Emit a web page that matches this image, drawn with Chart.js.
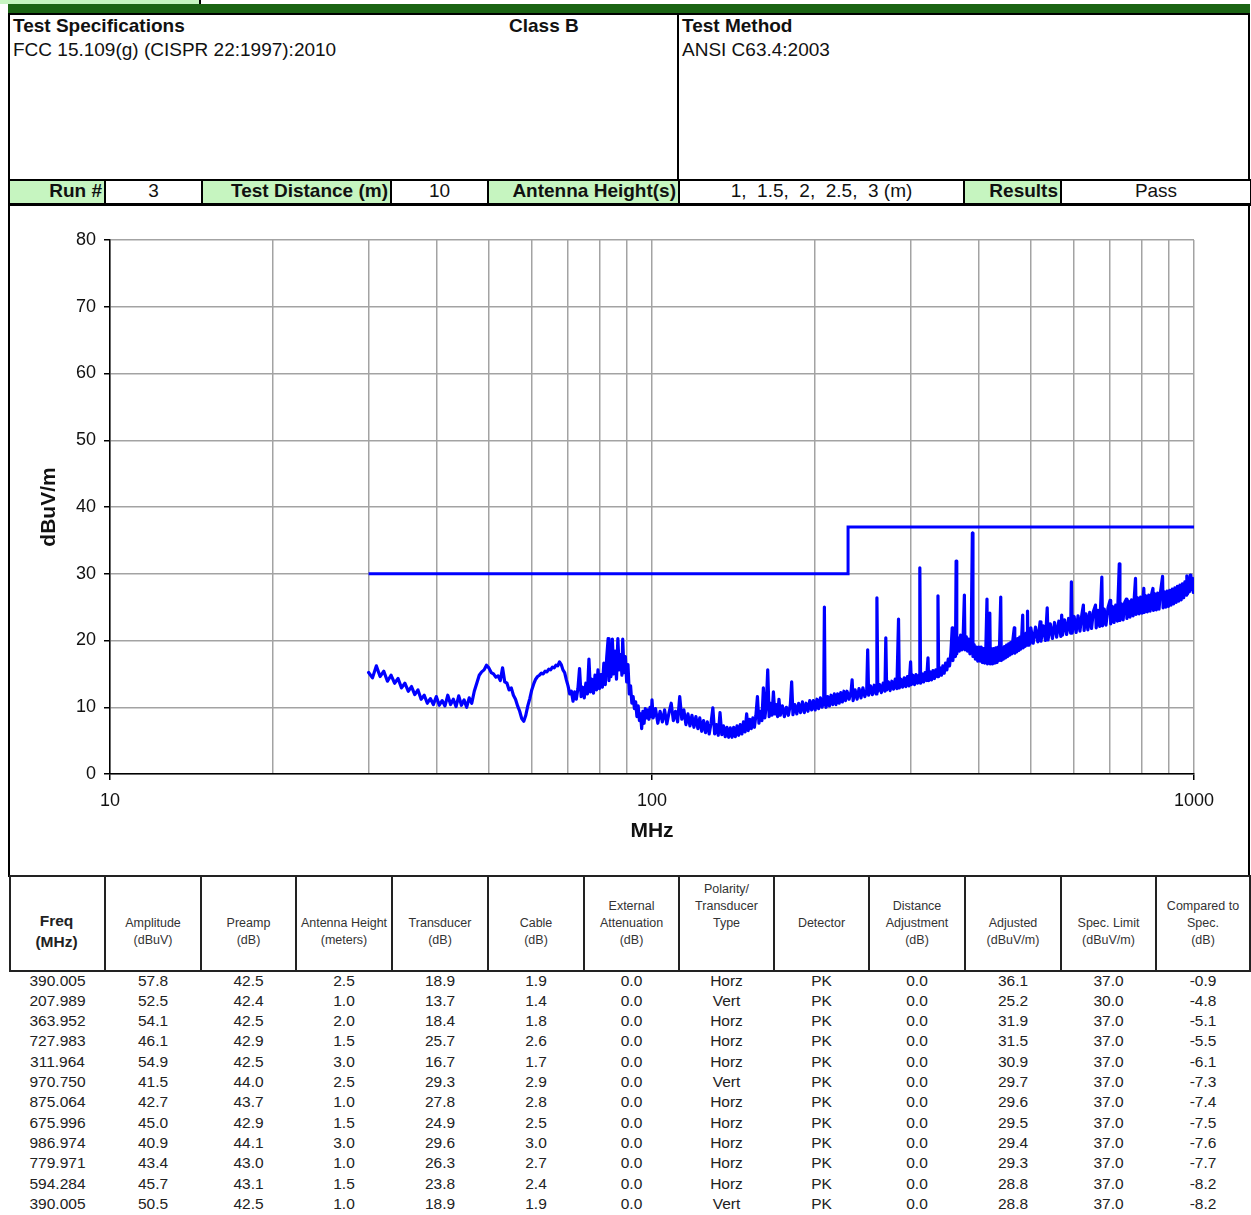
<!DOCTYPE html>
<html><head><meta charset="utf-8">
<script src="https://cdn.jsdelivr.net/npm/chart.js@4"></script>
<style>
body{margin:0;background:#fff;font-family:"Liberation Sans",Arial,sans-serif;}
#page{position:relative;width:1251px;height:1215px;overflow:hidden;background:#fff;}
.a{position:absolute;box-sizing:border-box;}
.t{position:absolute;white-space:pre;color:#111;}
</style></head><body><div id="page"></div>
<script>
// ---------- data ----------
const xTickValues = [10,20,30,40,50,60,70,80,90,100,200,300,400,500,600,700,800,900,1000];
const xLabelValues = [10,100,1000];
const limitFreq = [30,230,230,1000];
const limitLevel = [30,30,37,37];

const traceA = [[30,15.2],[30.5,14.4],[31,16.2],[31.5,14.6],[32,15.4],[32.5,13.9],[33,14.8],[33.5,13.6],[34,14.3],[34.5,12.9],[35,13.6],[35.5,12.4],[36,13.1],[36.5,11.9],[37,12.6],[37.5,11.2],[38,11.8],[38.5,10.6],[39,11.3],[39.5,10.4],[40,11.6],[40.5,10.3],[41,11.0],[41.5,10.2],[42,11.8],[42.5,10.4],[43,11.2],[43.5,10.1],[44,11.7],[44.5,10.3],[45,11.1],[45.5,10.0],[46,11.4],[46.5,10.6],[47,12.4],[47.5,13.6],[48,14.8],[48.5,15.3],[49,15.6],[49.5,16.3],[50,15.9],[50.5,15.2],[51,15.0],[51.5,14.5],[52,14.7],[52.5,14.0],[53,15.9],[53.5,13.8],[54,13.6],[54.5,12.6],[55,12.9],[55.5,11.8],[56,11.2],[56.5,10.2],[57,9.4],[57.5,8.3],[58,7.9],[58.5,8.8],[59,10.2],[59.5,11.3],[60,12.6],[60.5,13.5],[61,14.2],[61.5,14.6],[62,14.8],[62.5,15.1],[63,15.0],[63.5,15.4],[64,15.3],[64.5,15.7],[65,15.6],[65.5,16.0],[66,15.9],[66.5,16.3],[67,16.2],[67.5,16.8],[68,16.4],[68.5,15.6],[69,15.2],[69.5,14.1],[70,13.2],[70.5,12.0],[71,12.4],[71.5,10.9],[72,12.3],[72.5,11.2],[73,12.8],[73.5,15.8],[74,11.6],[74.5,13.0],[75,11.4],[75.5,13.6],[76,12.0],[76.5,17.2],[77,12.3],[77.5,14.2],[78,12.1],[78.5,14.8],[79,12.6],[79.5,15.6],[80,12.8],[80.5,14.9],[81,13.0],[81.5,16.6],[82,13.4],[82.5,17.5],[83,20.3],[83.3,14.0],[83.7,18.2],[84,14.6],[84.5,20.2],[85,15.0],[85.5,18.4],[86,14.2],[86.5,20.3],[87,15.6],[87.5,17.9],[88,14.8],[88.3,20.2],[88.8,15.2],[89.3,17.6],[89.8,13.8],[90.3,16.4],[90.8,12.0],[91.3,13.2],[91.8,10.6],[92.3,11.6],[92.8,9.8],[93.3,10.8],[93.8,8.6],[94.3,10.2],[94.8,8.0],[95.3,9.0],[95.7,6.8],[96.2,9.4],[96.7,7.6],[97.2,9.8],[97.7,8.4],[98.2,9.6],[98.7,8.2],[99.2,10.0],[99.7,8.6]];

const traceB = [[100,11.1],[100.5,8.4],[101.5,9.8],[102.5,7.6],[103.5,9.4],[104.5,7.8],[105.5,9.6],[106.5,7.5],[107.5,9.2],[108.5,10.6],[109.5,8.0],[110.5,9.4],[111.5,7.8],[112.5,11.6],[113.5,8.2],[114.5,9.6],[115.5,7.4],[116.5,9.0],[117.5,7.2],[118.5,8.8],[119.5,7.0],[120.5,8.6],[121.5,6.8],[122.5,8.4],[123.5,6.4],[124.5,8.0],[125.5,6.2],[126.5,7.8],[127.5,6.0],[128.5,7.6],[129.5,9.9],[130.5,6.0],[131.5,7.4],[132.5,5.8],[133.5,9.2],[134.5,5.9],[135.5,7.2],[136.5,5.6],[137.5,7.0],[138.5,5.5],[139.5,6.9],[140.5,5.5],[141.5,7.0],[142.5,5.6],[143.5,7.2],[144.5,5.8],[145.5,7.4],[146.5,6.0],[147.5,7.8],[148.5,6.3],[149.5,9.0],[150.5,6.5],[151.5,8.2],[152.5,6.8],[153.5,8.4],[154.5,7.0],[155.5,8.8],[156.5,11.6],[157.5,7.6],[158.5,9.4],[159.5,8.0],[160.5,12.9],[161.5,8.4],[162.5,10.2],[163.5,15.6],[164.5,8.6],[165.5,10.6],[166.5,8.8],[167.5,12.3],[168.5,9.0],[169.5,10.4],[170.5,8.6],[171.5,11.2],[172.5,8.8],[174,10.2],[175.5,8.6],[177,10.0],[178.5,8.8],[180,10.4],[181,13.8],[182,8.9],[183.5,10.4],[185,9.0],[186.5,10.6],[188,9.2],[189.5,10.8],[191,9.2],[192.5,10.6],[194,9.4],[195.5,11.0],[197,9.6],[198.5,11.0],[200,9.6],[201.5,11.2],[203,9.8],[204.5,11.4],[206,10.0],[207.4,11.0],[208,25.0],[208.6,10.6],[209.5,10.0],[211,11.6],[212.5,10.2],[214,11.8],[215.5,10.4],[217,12.0],[218.5,10.4],[220,12.0],[221.5,10.6],[223,12.2],[224.5,10.8],[226,12.4],[227.5,11.0],[229,12.4]];

const traceC = [[231,11.2],[233,12.4],[234,14.1],[235,11.0],[237,12.6],[239,11.2],[241,12.8],[243,11.4],[245,12.9],[247,11.6],[249,12.6],[250,18.6],[251,11.8],[253,13.2],[255,11.9],[257,13.3],[259,12.0],[260,26.4],[261,12.4],[263,13.4],[265,12.2],[267,13.6],[269,12.4],[270,20.4],[271,12.6],[273,13.8],[275,12.5],[277,13.9],[279,12.7],[281,14.2],[283,12.8],[285,23.2],[286,12.9],[288,14.2],[290,13.0],[292,14.4],[294,13.1],[296,14.6],[298,13.2],[300,16.8],[301,13.4],[303,14.8],[305,13.4],[307,14.9],[309,13.6],[311,14.8],[312,30.9],[313,13.6],[315,15.0],[317,13.8],[319,15.2],[321,14.0],[323,17.4],[324,14.0],[326,15.3],[328,14.1],[330,15.5],[332,14.3],[334,15.6],[336,14.6],[337,26.7],[338,14.6],[340,15.9],[342,14.8],[344,16.2],[346,15.1],[348,16.6],[350,15.6],[352,17.2],[354,16.2],[356,18.2],[358,21.9],[359,17.0],[361,19.2],[363,17.6],[364,31.9],[365,18.0],[367,20.4],[369,18.4],[371,20.8],[373,18.6],[375,20.4],[377,26.8],[378,18.6],[380,20.6],[382,18.4],[384,20.2],[386,18.0],[388,19.8],[390,36.1],[391,17.6],[393,19.4],[395,17.2],[397,19.0],[399,16.9],[401,19.0],[403,16.9],[405,19.0],[407,16.7],[409,18.8],[411,16.6],[413,18.8],[415,26.2],[416,16.5],[418,18.8],[420,24.1],[421,16.5],[423,18.8],[425,16.5],[427,18.8],[429,16.6],[431,18.9],[433,16.7],[435,19.0],[437,17.0],[440,26.5],[441,17.0],[443,18.9],[445,17.2],[447,19.1],[449,17.4],[451,19.3],[453,17.6],[455,19.5],[457,17.8],[459,19.7],[461,18.0],[463,19.9],[466,21.9],[467,18.1],[469,20.1],[471,18.3],[473,20.3],[475,18.5],[477,20.5],[479,18.7],[481,20.7],[483,23.8],[484,18.9],[486,20.9],[488,19.1],[490,21.1],[492,19.3],[493,24.4],[494,19.3],[496,21.4],[498,19.5]];

const traceD = [[500,21.9],[505,19.6],[510,22.0],[515,19.8],[520,22.8],[522,19.9],[527,22.2],[532,20.0],[536,24.9],[538,20.1],[543,22.5],[548,20.3],[553,22.7],[558,20.5],[563,22.9],[568,20.6],[570,23.8],[572,20.8],[577,23.1],[582,20.9],[587,23.3],[592,21.1],[594,28.8],[596,21.1],[601,23.6],[606,21.2],[611,23.7],[616,21.4],[621,23.9],[625,25.3],[627,21.5],[632,24.0],[637,21.6],[642,24.2],[647,21.8],[652,24.3],[658,25.3],[660,21.9],[665,24.5],[670,22.1],[676,29.5],[678,22.2],[683,24.7],[688,22.3],[694,24.9],[700,26.0],[702,22.5],[707,25.1],[712,22.7],[717,25.3],[722,22.9],[728,31.5],[730,23.0],[735,25.5],[740,23.1],[745,25.7],[750,26.2],[752,23.3],[757,25.9],[762,23.5],[767,26.1],[772,23.7],[780,29.3],[782,23.9],[787,26.4],[792,24.0],[797,26.5],[802,24.1],[808,27.8],[810,24.2],[815,26.7],[820,24.3],[825,26.8],[830,24.4],[835,26.9],[840,27.8],[842,24.5],[847,27.0],[852,24.6],[857,27.1],[862,24.7],[867,27.2],[875,29.6],[877,24.9],[882,27.3],[887,25.0],[892,27.4],[897,25.1],[902,27.5],[907,25.3],[912,27.7],[917,25.5],[922,27.9],[927,25.7],[932,28.1],[937,25.9],[942,28.3],[947,26.1],[952,28.5],[957,26.4],[962,28.8],[967,26.8],[970,29.7],[973,27.0],[977,29.3],[981,27.3],[984,29.8],[987,29.4],[990,27.6],[994,29.3],[997,27.2],[1000,28.8]];

// table columns
const freqCol = [390.005,207.989,363.952,727.983,311.964,970.750,875.064,675.996,986.974,779.971,594.284,390.005];
const amplitude = [57.8,52.5,54.1,46.1,54.9,41.5,42.7,45.0,40.9,43.4,45.7,50.5];
const preamp = [42.5,42.4,42.5,42.9,42.5,44.0,43.7,42.9,44.1,43.0,43.1,42.5];
const antHeight = [2.5,1.0,2.0,1.5,3.0,2.5,1.0,1.5,3.0,1.0,1.5,1.0];
const transducer = [18.9,13.7,18.4,25.7,16.7,29.3,27.8,24.9,29.6,26.3,23.8,18.9];
const cable = [1.9,1.4,1.8,2.6,1.7,2.9,2.8,2.5,3.0,2.7,2.4,1.9];
const extAtt = [0,0,0,0,0,0,0,0,0,0,0,0];
const polarity = ['Horz','Vert','Horz','Horz','Horz','Vert','Horz','Horz','Horz','Horz','Horz','Vert'];
const detector = ['PK','PK','PK','PK','PK','PK','PK','PK','PK','PK','PK','PK'];
const distAdj = [0,0,0,0,0,0,0,0,0,0,0,0];
const adjusted = [36.1,25.2,31.9,31.5,30.9,29.7,29.6,29.5,29.4,29.3,28.8,28.8];
const specLimit = [37.0,30.0,37.0,37.0,37.0,37.0,37.0,37.0,37.0,37.0,37.0,37.0];
const compared = [-0.9,-4.8,-5.1,-5.5,-6.1,-7.3,-7.4,-7.5,-7.6,-7.7,-8.2,-8.2];

const colHeaders = [
  ['Freq','(MHz)'],['','Amplitude','(dBuV)'],['','Preamp','(dB)'],['','Antenna Height','(meters)'],
  ['','Transducer','(dB)'],['','Cable','(dB)'],['External','Attenuation','(dB)'],
  ['Polarity/','Transducer','Type','',''],['Detector'],['Distance','Adjustment','(dB)'],
  ['','Adjusted','(dBuV/m)'],['','Spec. Limit','(dBuV/m)'],['Compared to','Spec.','(dB)']
];

// ---------- layout helpers ----------
const page = document.getElementById('page');
function box(l,t,w,h,css){const d=document.createElement('div');d.className='a';d.style.cssText=`left:${l}px;top:${t}px;width:${w}px;height:${h}px;`+(css||'');page.appendChild(d);return d;}
function txt(l,t,w,s,css){const d=document.createElement('div');d.className='t';d.style.cssText=`left:${l}px;top:${t}px;`+(w?`width:${w}px;`:'')+(css||'');d.textContent=s;page.appendChild(d);return d;}

const GREEN='#c6f5c0', DARK='#1b6414';
box(0,0,200,4,`background:${GREEN};`);
box(199,0,2,5,'background:#000;');
box(8,4,1242,10,`background:${DARK};`);
box(8,13,1242,168,'border:2px solid #000;');
box(677,13,2,168,'background:#000;');
const hf='font-size:19px;line-height:22px;';
txt(13,15,0,'Test Specifications',hf+'font-weight:bold;');
txt(13,39,0,'FCC 15.109(g) (CISPR 22:1997):2010',hf);
txt(509,15,0,'Class B',hf+'font-weight:bold;');
txt(682,15,0,'Test Method',hf+'font-weight:bold;');
txt(682,39,0,'ANSI C63.4:2003',hf);

const row2 = [[8,104,'Run #',1],[104,201,'3',0],[201,390,'Test Distance (m)',1],[390,487,'10',0],[487,678,'Antenna Height(s)',1],[678,963,'1,  1.5,  2,  2.5,  3 (m)',0],[963,1060,'Results',1],[1060,1250,'Pass',0]];
row2.forEach(([x0,x1,s,g])=>{
  const d=box(x0,179,x1-x0+2,27,`border:2px solid #000;border-bottom-width:3px;background:${g?GREEN:'#fff'};font-size:19px;line-height:20px;color:#111;white-space:pre;text-align:${g?'right':'center'};padding-right:${g?2:0}px;font-weight:${g?'bold':'normal'};`);
  d.textContent=s;
});
// chart frame
box(8,205,1242,672,'border-left:2px solid #000;border-right:2px solid #000;');

// data table
const cb=[9,104,200,295,391,487,583,678,773,868,964,1060,1155,1249];
for(let i=0;i<13;i++){
  box(cb[i],875,cb[i+1]-cb[i]+2,97,'border:2px solid #222;');
  const lines=colHeaders[i];
  if(i===0){
    txt(cb[i],910,cb[i+1]-cb[i],'Freq','font-size:15.5px;line-height:21px;font-weight:bold;text-align:center;color:#222;');
    txt(cb[i],931,cb[i+1]-cb[i],'(MHz)','font-size:15.5px;line-height:21px;font-weight:bold;text-align:center;color:#222;');
  } else {
    const n=lines.length, lh=17, top=923-(n*lh)/2;
    lines.forEach((s,k)=>txt(cb[i]+2,top+k*lh,cb[i+1]-cb[i]-2,s,`font-size:12.5px;line-height:${lh}px;text-align:center;color:#333;`));
  }
}
const cols=[freqCol.map(v=>v.toFixed(3)),amplitude.map(v=>v.toFixed(1)),preamp.map(v=>v.toFixed(1)),antHeight.map(v=>v.toFixed(1)),transducer.map(v=>v.toFixed(1)),cable.map(v=>v.toFixed(1)),extAtt.map(v=>v.toFixed(1)),polarity,detector,distAdj.map(v=>v.toFixed(1)),adjusted.map(v=>v.toFixed(1)),specLimit.map(v=>v.toFixed(1)),compared.map(v=>v.toFixed(1))];
cols.forEach((arr,i)=>arr.forEach((s,r)=>{
  txt(cb[i],970.5+r*20.3,cb[i+1]-cb[i]+2,s,'font-size:15.5px;line-height:20px;text-align:center;color:#222;');
}));

// ---------- chart ----------
const cv=document.createElement('canvas');
cv.width=1238;cv.height=670;cv.style.cssText='position:absolute;left:10px;top:205px;';
page.appendChild(cv);
const F='"Liberation Sans", Arial, sans-serif';
const trace=[].concat(traceA,traceB,traceC,traceD).map(p=>({x:p[0],y:p[1]}));
const limit=limitFreq.map((f,i)=>({x:f,y:limitLevel[i]}));
const isLabel=v=>xLabelValues.includes(v);
new Chart(cv,{
  type:'scatter',
  data:{datasets:[
    {data:trace,showLine:true,borderColor:'#0000ff',borderWidth:3.2,pointRadius:0,tension:0,borderJoinStyle:'round',borderCapStyle:'round'},
    {data:limit,showLine:true,borderColor:'#0000ff',borderWidth:3,pointRadius:0,tension:0}
  ]},
  options:{
    responsive:false,animation:false,events:[],
    layout:{padding:{top:35,right:54,left:0,bottom:0}},
    plugins:{legend:{display:false},tooltip:{enabled:false}},
    scales:{
      x:{type:'logarithmic',min:10,max:1000,
        afterBuildTicks:s=>{s.ticks=xTickValues.map(v=>({value:v}));},
        afterFit:s=>{s.height=101;},
        ticks:{autoSkip:false,maxRotation:0,minRotation:0,padding:10,color:'#111',font:{size:18,family:F},callback:v=>isLabel(v)?String(v):''},
        grid:{color:'#a3a3a3',lineWidth:1.5,tickLength:6,tickColor:c=>(c.tick&&isLabel(c.tick.value))?'#000':'rgba(0,0,0,0)'},
        border:{display:true,color:'#000',width:1.5},
        title:{display:true,text:'MHz',color:'#111',font:{size:21,weight:'bold',family:F},padding:{top:0,bottom:31}}
      },
      y:{min:0,max:80,
        afterFit:s=>{s.width=100;},
        ticks:{stepSize:10,padding:8,color:'#111',font:{size:18,family:F}},
        grid:{color:'#a3a3a3',lineWidth:1.5,tickLength:6,tickColor:'#000'},
        border:{display:true,color:'#000',width:1.5},
        title:{display:true,text:'dBuV/m',color:'#111',font:{size:21,weight:'bold',family:F},padding:{top:27,bottom:0}}
      }
    }
  }
});
</script></body></html>
